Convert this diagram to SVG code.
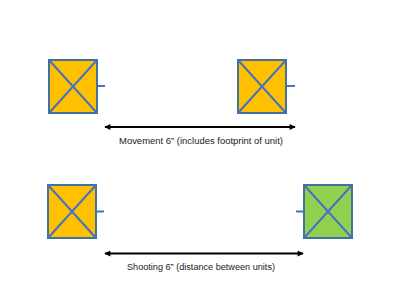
<svg xmlns="http://www.w3.org/2000/svg" width="400" height="300" viewBox="0 0 400 300">
<defs>
<style>
.box{stroke:#41719C;stroke-width:2}
.x{stroke:#4472C4;stroke-width:2}
.tick{stroke:#4472C4;stroke-width:2}
.arr{stroke:#000;stroke-width:1.8;fill:none;marker-start:url(#ah);marker-end:url(#ah)}
.lbl{font-family:"Liberation Sans",Arial,sans-serif;font-size:9.2px;fill:#222;text-anchor:middle}
</style>
<marker id="ah" viewBox="0 0 10 10" refX="9" refY="5" markerWidth="7" markerHeight="6" orient="auto-start-reverse" markerUnits="userSpaceOnUse">
<path d="M0,0 L10,5 L0,10 z" fill="#000"/>
</marker>
</defs>
<rect width="400" height="300" fill="#fff"/>
<g id="unit1">
<rect class="box" x="49" y="60" width="48" height="53" fill="#FFC000"/>
<line class="x" x1="49" y1="60" x2="97" y2="113"/>
<line class="x" x1="97" y1="60" x2="49" y2="113"/>
<line class="tick" x1="97" y1="86" x2="105" y2="86"/>
</g>
<g id="unit2">
<rect class="box" x="238" y="60" width="48" height="53" fill="#FFC000"/>
<line class="x" x1="238" y1="60" x2="286" y2="113"/>
<line class="x" x1="286" y1="60" x2="238" y2="113"/>
<line class="tick" x1="286" y1="86" x2="295" y2="86"/>
</g>
<g id="unit3">
<rect class="box" x="48" y="185" width="48" height="53" fill="#FFC000"/>
<line class="x" x1="48" y1="185" x2="96" y2="238"/>
<line class="x" x1="96" y1="185" x2="48" y2="238"/>
<line class="tick" x1="96" y1="211.5" x2="104" y2="211.5"/>
</g>
<g id="unit4">
<rect class="box" x="304" y="185" width="48" height="53" fill="#92D050"/>
<line class="x" x1="304" y1="185" x2="352" y2="238"/>
<line class="x" x1="352" y1="185" x2="304" y2="238"/>
<line class="tick" x1="296" y1="211.5" x2="304" y2="211.5"/>
</g>
<g id="connectors">
<line class="arr" x1="105" y1="127" x2="295" y2="127"/>
<line class="arr" x1="105" y1="253.5" x2="303" y2="253.5"/>
</g>
<text class="lbl" x="201" y="144" textLength="164" lengthAdjust="spacingAndGlyphs">Movement 6” (includes footprint of unit)</text>
<text class="lbl" x="201" y="270" textLength="148" lengthAdjust="spacingAndGlyphs">Shooting 6” (distance between units)</text>
</svg>
